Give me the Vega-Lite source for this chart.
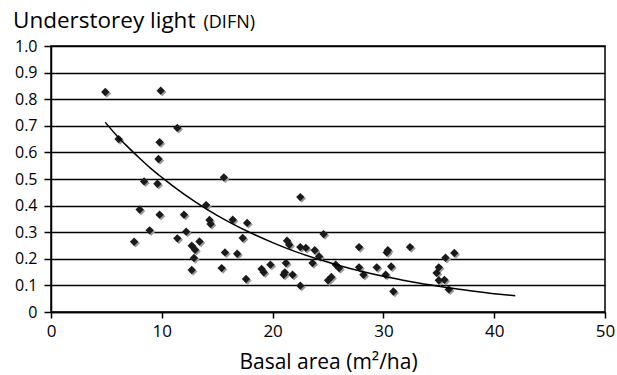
{
  "$schema": "https://vega.github.io/schema/vega-lite/v6.json",
  "width": 554,
  "height": 266,
  "autosize": "none",
  "padding": {"left": 51, "top": 46, "right": 12, "bottom": 63},
  "background": "white",
  "config": {
    "font": "Open Sans",
    "view": {"stroke": "black", "strokeWidth": 1.5},
    "axis": {"labelColor": "black", "titleColor": "black", "domainColor": "black", "tickColor": "black", "domainWidth": 1.5, "tickWidth": 1.5}
  },
  "title": {
    "text": "Understorey light",
    "anchor": "start",
    "frame": "group",
    "dx": -38,
    "dy": 55,
    "fontSize": 22.5,
    "fontWeight": "normal",
    "color": "black",
    "baseline": "alphabetic",
    "offset": 18
  },
  "datasets": {
    "pts": [
      {"ba": 4.9, "difn": 0.827}, {"ba": 9.9, "difn": 0.832}, {"ba": 11.4, "difn": 0.692},
      {"ba": 6.1, "difn": 0.650}, {"ba": 9.8, "difn": 0.638}, {"ba": 9.7, "difn": 0.575},
      {"ba": 8.4, "difn": 0.491}, {"ba": 9.6, "difn": 0.482}, {"ba": 8.0, "difn": 0.385},
      {"ba": 9.8, "difn": 0.366}, {"ba": 12.0, "difn": 0.366}, {"ba": 14.0, "difn": 0.402},
      {"ba": 14.3, "difn": 0.346}, {"ba": 14.4, "difn": 0.331}, {"ba": 8.9, "difn": 0.307},
      {"ba": 12.2, "difn": 0.302}, {"ba": 7.5, "difn": 0.264}, {"ba": 11.4, "difn": 0.277},
      {"ba": 13.4, "difn": 0.265}, {"ba": 12.7, "difn": 0.249}, {"ba": 13.0, "difn": 0.234},
      {"ba": 12.9, "difn": 0.203}, {"ba": 12.7, "difn": 0.158}, {"ba": 15.6, "difn": 0.506},
      {"ba": 22.5, "difn": 0.432}, {"ba": 16.4, "difn": 0.347}, {"ba": 17.7, "difn": 0.335},
      {"ba": 17.3, "difn": 0.278}, {"ba": 21.3, "difn": 0.268}, {"ba": 21.5, "difn": 0.253},
      {"ba": 22.5, "difn": 0.244}, {"ba": 23.0, "difn": 0.241}, {"ba": 23.8, "difn": 0.232},
      {"ba": 24.2, "difn": 0.209}, {"ba": 23.6, "difn": 0.184}, {"ba": 15.7, "difn": 0.224},
      {"ba": 16.8, "difn": 0.219}, {"ba": 15.4, "difn": 0.165}, {"ba": 19.8, "difn": 0.178},
      {"ba": 19.0, "difn": 0.162}, {"ba": 19.2, "difn": 0.149}, {"ba": 21.2, "difn": 0.184},
      {"ba": 21.1, "difn": 0.149}, {"ba": 21.0, "difn": 0.140}, {"ba": 21.8, "difn": 0.140},
      {"ba": 17.6, "difn": 0.124}, {"ba": 22.5, "difn": 0.099}, {"ba": 24.6, "difn": 0.293},
      {"ba": 27.8, "difn": 0.244}, {"ba": 30.3, "difn": 0.224}, {"ba": 30.4, "difn": 0.232},
      {"ba": 32.4, "difn": 0.244}, {"ba": 25.7, "difn": 0.178}, {"ba": 26.0, "difn": 0.165},
      {"ba": 27.8, "difn": 0.168}, {"ba": 28.2, "difn": 0.140}, {"ba": 29.4, "difn": 0.168},
      {"ba": 30.7, "difn": 0.171}, {"ba": 30.2, "difn": 0.140}, {"ba": 25.0, "difn": 0.119},
      {"ba": 25.3, "difn": 0.132}, {"ba": 30.9, "difn": 0.077}, {"ba": 36.4, "difn": 0.222},
      {"ba": 35.6, "difn": 0.204}, {"ba": 35.0, "difn": 0.168}, {"ba": 34.8, "difn": 0.147},
      {"ba": 35.0, "difn": 0.119}, {"ba": 35.5, "difn": 0.121}, {"ba": 35.9, "difn": 0.085}
    ],
    "curve": [
      {"ba": 4.9, "difn": 0.713}, {"ba": 6, "difn": 0.66}, {"ba": 7, "difn": 0.618},
      {"ba": 8, "difn": 0.578}, {"ba": 9, "difn": 0.54}, {"ba": 10, "difn": 0.506},
      {"ba": 12, "difn": 0.443}, {"ba": 14, "difn": 0.388}, {"ba": 16, "difn": 0.34},
      {"ba": 18, "difn": 0.298}, {"ba": 20, "difn": 0.261}, {"ba": 22, "difn": 0.228},
      {"ba": 24, "difn": 0.2}, {"ba": 26, "difn": 0.175}, {"ba": 28, "difn": 0.153},
      {"ba": 30, "difn": 0.134}, {"ba": 32, "difn": 0.118}, {"ba": 34, "difn": 0.103},
      {"ba": 36, "difn": 0.09}, {"ba": 38, "difn": 0.079}, {"ba": 40, "difn": 0.069},
      {"ba": 41.9, "difn": 0.061}
    ]
  },
  "encoding": {
    "x": {
      "field": "ba", "type": "quantitative",
      "scale": {"domain": [0, 50], "nice": false},
      "axis": {
        "title": "Basal area (m²/ha)",
        "values": [0, 10, 20, 30, 40, 50],
        "grid": false,
        "tickSize": 6,
        "labelFontSize": 17,
        "labelPadding": 5,
        "labelFlush": false,
        "titleFontSize": 21,
        "titleFontWeight": "normal",
        "titleBaseline": "alphabetic",
        "titleY": 56
      }
    },
    "y": {
      "field": "difn", "type": "quantitative",
      "scale": {"domain": [0, 1], "nice": false},
      "axis": {
        "title": "(DIFN)",
        "titleAngle": 0,
        "titleAlign": "left",
        "titleBaseline": "alphabetic",
        "titleX": 152,
        "titleY": -18.5,
        "titleFontSize": 18,
        "titleFontWeight": "normal",
        "values": [0, 0.1, 0.2, 0.3, 0.4, 0.5, 0.6, 0.7, 0.8, 0.9, 1.0],
        "labelExpr": "datum.value == 0 ? '0' : format(datum.value, '.1f')",
        "grid": true,
        "gridColor": "black",
        "gridWidth": 1.5,
        "gridOpacity": 1,
        "tickSize": 7,
        "labelFontSize": 16,
        "labelPadding": 7,
        "labelFlush": false
      }
    }
  },
  "layer": [
    {
      "data": {"name": "pts"},
      "mark": {"type": "point", "shape": "diamond", "filled": true, "size": 70, "color": "#9a9a9a", "opacity": 1, "xOffset": 1.5, "yOffset": 1.5}
    },
    {
      "data": {"name": "pts"},
      "mark": {"type": "point", "shape": "diamond", "filled": true, "size": 70, "color": "#1a1a1a", "opacity": 1}
    },
    {
      "data": {"name": "curve"},
      "mark": {"type": "line", "color": "black", "strokeWidth": 1.5, "interpolate": "monotone"}
    }
  ]
}
